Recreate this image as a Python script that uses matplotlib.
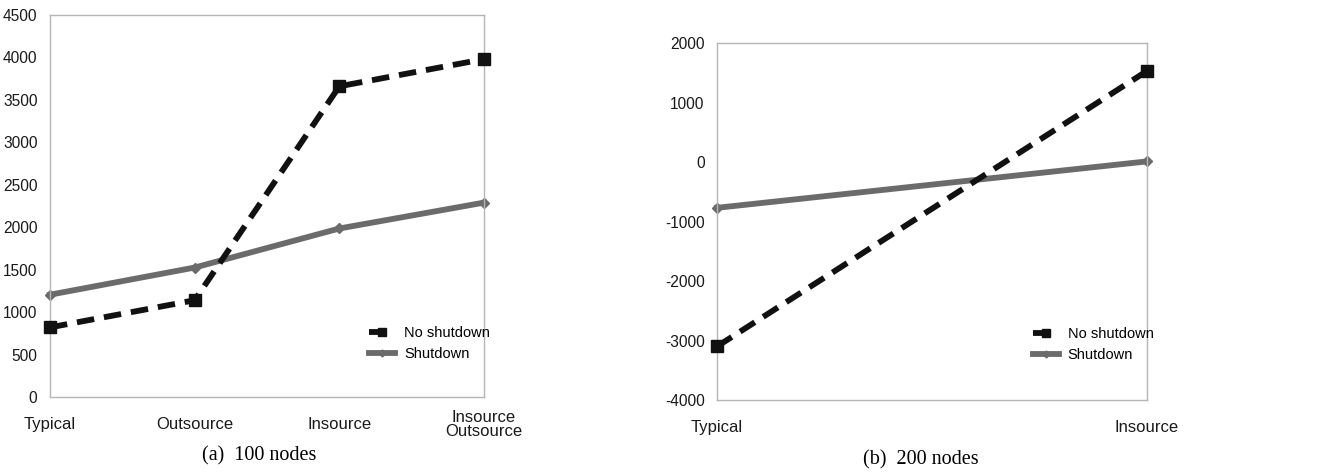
import matplotlib
matplotlib.use("Agg")
import matplotlib.pyplot as plt

# panel (a): 100 nodes
cats_a = ["Typical", "Outsource", "Insource", "Insource\nOutsource"]
no_shutdown_a = [820, 1140, 3660, 3980]
shutdown_a = [1205, 1525, 1985, 2290]

# panel (b): 200 nodes
cats_b = ["Typical", "Insource"]
no_shutdown_b = [-3100, 1530]
shutdown_b = [-770, 10]

plt.rcParams['font.family'] = ['Liberation Sans', 'DejaVu Sans']
plt.rcParams['axes.unicode_minus'] = False

W, H = 1336, 473
fig = plt.figure(figsize=(W / 100, H / 100), dpi=100)


def px_axes(x0, y0, x1, y1):
    return fig.add_axes([x0 / W, 1 - y1 / H, (x1 - x0) / W, (y1 - y0) / H])


def draw_panel(ax, cats, no_sd, sd, ylim, yticks, leg_anchor):
    x = list(range(len(cats)))
    ax.plot(x, no_sd, color='#111111', lw=4.2, linestyle=(0, (3.0, 1.7)),
            marker='s', ms=8.5, label='No shutdown', zorder=3, clip_on=False)
    ax.plot(x, sd, color='#6b6b6b', lw=4.2, marker='D', ms=5,
            label='Shutdown', zorder=2, clip_on=False)
    ax.set_xlim(0, len(cats) - 1)
    ax.set_ylim(*ylim)
    ax.set_yticks(yticks)
    ax.set_xticks(x)
    ax.set_xticklabels(cats, linespacing=0.9, fontsize=12)
    for lbl in ax.get_xticklabels():
        lbl.set_verticalalignment('center')
    for s in ax.spines.values():
        s.set_color('#b5b5b5')
        s.set_linewidth(1.0)
    ax.tick_params(axis='both', length=0, colors='#1a1a1a')
    ax.tick_params(axis='y', pad=9, labelsize=11.2)
    ax.tick_params(axis='x', pad=20)
    ax.legend(loc='upper left', bbox_to_anchor=leg_anchor, frameon=False,
              fontsize=10.5, handlelength=1.8, handletextpad=0.6,
              labelspacing=0.45, borderpad=0, borderaxespad=0,
              markerscale=0.7)


ax1 = px_axes(50, 15, 484, 397)
draw_panel(ax1, cats_a, no_shutdown_a, shutdown_a, (0, 4500),
           range(0, 4501, 500), (0.735, 0.185))

ax2 = px_axes(717, 43, 1147, 400)
draw_panel(ax2, cats_b, no_shutdown_b, shutdown_b, (-4000, 2000),
           range(-4000, 2001, 1000), (0.734, 0.204))

fig.text(259 / W, 1 - 456 / H, "(a)  100 nodes", ha='center', va='center',
         family='Liberation Serif', fontsize=14.5)
fig.text(921 / W, 1 - 460 / H, "(b)  200 nodes", ha='center', va='center',
         family='Liberation Serif', fontsize=14.5)

fig.savefig("out.png", dpi=100)
